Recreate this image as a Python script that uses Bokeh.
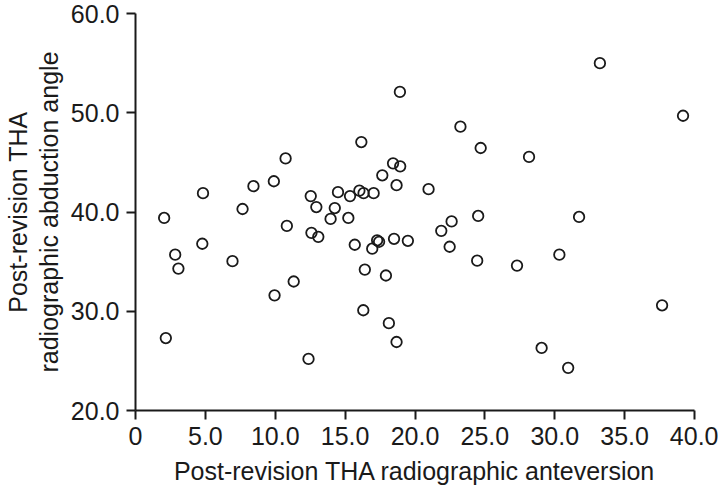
from bokeh.plotting import figure
from bokeh.models import FixedTicker, Range1d, LinearAxis
from bokeh.embed import file_html
from bokeh.resources import INLINE

anteversion = [2.05, 2.84, 3.07, 2.17, 4.83, 4.78, 6.94, 7.66, 8.44, 9.90,
               10.74, 10.83, 9.95, 11.32, 12.54, 12.94, 12.59, 13.08, 12.38, 24.70,
               18.43, 18.94, 17.66, 18.68, 20.97, 14.49, 15.35, 16.02, 16.32, 17.04,
               14.26, 13.96, 15.23, 15.69, 17.29, 17.43, 16.94, 18.50, 19.49, 21.88,
               22.62, 22.48, 24.52, 24.45, 16.41, 17.92, 16.30, 18.13, 18.68, 33.23,
               39.18, 28.16, 31.74, 30.33, 27.30, 37.68, 29.06, 30.96, 18.92, 23.25,
               16.16]
abduction = [39.4, 35.7, 34.3, 27.3, 41.9, 36.8, 35.05, 40.3, 42.6, 43.1,
             45.4, 38.6, 31.6, 33.0, 41.6, 40.5, 37.9, 37.5, 25.2, 46.45,
             44.9, 44.6, 43.7, 42.7, 42.3, 42.0, 41.6, 42.15, 41.9, 41.9,
             40.4, 39.3, 39.4, 36.7, 37.15, 37.0, 36.3, 37.3, 37.1, 38.1,
             39.05, 36.5, 39.6, 35.1, 34.2, 33.6, 30.1, 28.8, 26.9, 55.0,
             49.7, 45.55, 39.5, 35.7, 34.6, 30.6, 26.3, 24.3, 52.1, 48.6,
             47.05]

x_ticks = [0, 5, 10, 15, 20, 25, 30, 35, 40]
x_tick_labels = ["0", "5.0", "10.0", "15.0", "20.0", "25.0", "30.0", "35.0", "40.0"]
y_ticks = [20, 30, 40, 50, 60]
y_tick_labels = ["20.0", "30.0", "40.0", "50.0", "60.0"]
x_title = "Post-revision THA radiographic anteversion"
y_title_lines = ["Post-revision THA", "radiographic abduction angle"]

FONT = "Liberation Sans"
INK = "#1a1a1a"
FS = "25px"

p = figure(width=718, height=487, output_backend="svg", toolbar_location=None,
           x_range=Range1d(0, 40), y_range=Range1d(20, 60),
           min_border_left=100, min_border_right=24, min_border_top=13, min_border_bottom=70)

p.scatter(anteversion, abduction, size=10.5, marker="circle", fill_color=None,
          line_color=INK, line_width=1.8)

p.xgrid.visible = False
p.ygrid.visible = False
p.outline_line_color = None
p.background_fill_color = "white"
p.border_fill_color = "white"

for ax in (p.xaxis[0], p.yaxis[0]):
    ax.axis_line_color = INK
    ax.axis_line_width = 2
    ax.major_tick_line_color = INK
    ax.major_tick_line_width = 2
    ax.major_tick_out = 9
    ax.major_tick_in = 0
    ax.minor_tick_line_color = None
    ax.major_label_text_font = FONT
    ax.major_label_text_font_size = FS
    ax.major_label_text_color = INK
    ax.axis_label_text_font = FONT
    ax.axis_label_text_font_size = FS
    ax.axis_label_text_font_style = "normal"
    ax.axis_label_text_color = INK
    ax.major_label_standoff = 7

p.xaxis[0].ticker = FixedTicker(ticks=x_ticks)
p.xaxis[0].major_label_overrides = {t: l for t, l in zip(x_ticks, x_tick_labels)}
p.yaxis[0].ticker = FixedTicker(ticks=y_ticks)
p.yaxis[0].major_label_overrides = {t: l for t, l in zip(y_ticks, y_tick_labels)}

p.xaxis[0].axis_label = x_title
p.xaxis[0].axis_label_standoff = 9
p.yaxis[0].axis_label = y_title_lines[1]
p.yaxis[0].axis_label_standoff = 5

outer = LinearAxis(ticker=FixedTicker(ticks=[]), axis_label=y_title_lines[0],
                   axis_line_color=None, major_tick_line_color=None,
                   minor_tick_line_color=None, axis_label_standoff=0,
                   major_label_standoff=0, major_tick_out=0, major_tick_in=0,
                   axis_label_text_font=FONT, axis_label_text_font_size=FS,
                   axis_label_text_font_style="normal", axis_label_text_color=INK)
p.add_layout(outer, "left")

open("out.html", "w").write(file_html(p, INLINE))
